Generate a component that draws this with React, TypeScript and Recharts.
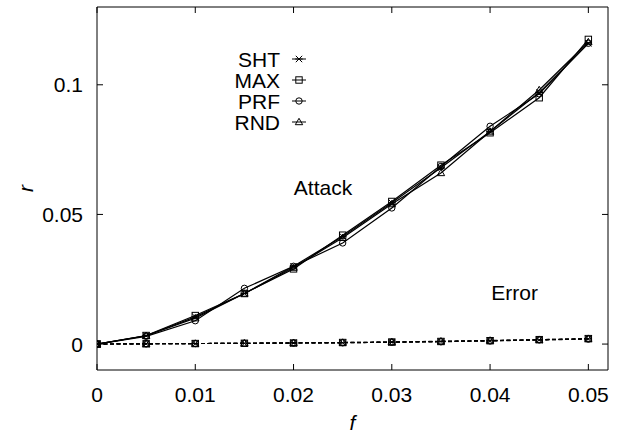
import React from 'react';
import { LineChart, Line, XAxis, YAxis, Legend, ReferenceDot, Label } from 'recharts';

const fractions = [0, 0.005, 0.01, 0.015, 0.02, 0.025, 0.03, 0.035, 0.04, 0.045, 0.05];

const attackSHT = [0, 0.0032, 0.0105, 0.0195, 0.0300, 0.0415, 0.0545, 0.0680, 0.0820, 0.0970, 0.1160];
const attackMAX = [0, 0.0033, 0.0110, 0.0195, 0.0290, 0.0420, 0.0550, 0.0690, 0.0815, 0.0950, 0.1175];
const attackPRF = [0, 0.0030, 0.0090, 0.0215, 0.0300, 0.0390, 0.0525, 0.0685, 0.0840, 0.0965, 0.1160];
const attackRND = [0, 0.0032, 0.0100, 0.0195, 0.0295, 0.0410, 0.0540, 0.0660, 0.0820, 0.0980, 0.1165];

const errorSHT = [0, 0.0001, 0.0002, 0.0003, 0.0004, 0.0005, 0.0007, 0.0010, 0.0013, 0.0016, 0.0020];
const errorMAX = [0, 0.0001, 0.0002, 0.0003, 0.0004, 0.0006, 0.0008, 0.0010, 0.0013, 0.0017, 0.0021];
const errorPRF = [0, 0.0001, 0.0002, 0.0003, 0.0004, 0.0005, 0.0007, 0.0009, 0.0012, 0.0016, 0.0019];
const errorRND = [0, 0.0001, 0.0002, 0.0003, 0.0005, 0.0006, 0.0008, 0.0011, 0.0014, 0.0017, 0.0021];

const xTicks = [0, 0.01, 0.02, 0.03, 0.04, 0.05];
const yTicks = [0, 0.05, 0.1];
const seriesNames = ['SHT', 'MAX', 'PRF', 'RND'];

const data = fractions.map((f, i) => ({
  f,
  aSHT: attackSHT[i],
  aMAX: attackMAX[i],
  aPRF: attackPRF[i],
  aRND: attackRND[i],
  eSHT: errorSHT[i],
  eMAX: errorMAX[i],
  ePRF: errorPRF[i],
  eRND: errorRND[i],
}));

const FONT = '"Liberation Sans", Arial, Helvetica, sans-serif';
const FS = 21;
const TICK = 6;
const X_DOMAIN: [number, number] = [0, 0.052];
const Y_DOMAIN: [number, number] = [-0.01, 0.13];

function Marker({ shape, cx, cy }: { shape: string; cx: number; cy: number }) {
  const s = 3.2;
  const common = { stroke: '#000', strokeWidth: 1, fill: 'none' };
  if (cx == null || cy == null || isNaN(cx) || isNaN(cy)) return <g />;
  if (shape === 'SHT') {
    return (
      <g {...common}>
        <line x1={cx - s - 0.5} y1={cy} x2={cx + s + 0.5} y2={cy} />
        <line x1={cx - s} y1={cy - s} x2={cx + s} y2={cy + s} />
        <line x1={cx - s} y1={cy + s} x2={cx + s} y2={cy - s} />
      </g>
    );
  }
  if (shape === 'MAX') {
    return <rect x={cx - s} y={cy - s} width={2 * s} height={2 * s} {...common} />;
  }
  if (shape === 'PRF') {
    return <circle cx={cx} cy={cy} r={s} {...common} />;
  }
  return (
    <polygon
      points={`${cx},${cy - s - 0.5} ${cx - s - 0.5},${cy + s - 0.5} ${cx + s + 0.5},${cy + s - 0.5}`}
      {...common}
    />
  );
}

const makeDot = (shape: string) => (p: any) => (
  <Marker key={`${shape}-${p.dataKey}-${p.index}`} shape={shape} cx={p.cx} cy={p.cy} />
);

const fmt = (v: number) => String(v);

const XTickBottom = (props: any) => {
  const { x, y, payload } = props;
  return (
    <g>
      <line x1={x} x2={x} y1={y} y2={y - TICK} stroke="#000" strokeWidth={1} />
      <text x={x} y={y + 32} textAnchor="middle" fontSize={FS} fontFamily={FONT} fill="#000">
        {fmt(payload.value)}
      </text>
    </g>
  );
};

const XTickTop = (props: any) => {
  const { x, y } = props;
  return <line x1={x} x2={x} y1={y} y2={y + TICK} stroke="#000" strokeWidth={1} />;
};

const YTickLeft = (props: any) => {
  const { x, y, payload } = props;
  return (
    <g>
      <line x1={x} x2={x + TICK} y1={y} y2={y} stroke="#000" strokeWidth={1} />
      <text x={x - 14} y={y + 7.5} textAnchor="end" fontSize={FS} fontFamily={FONT} fill="#000">
        {fmt(payload.value)}
      </text>
    </g>
  );
};

const YTickRight = (props: any) => {
  const { x, y } = props;
  return <line x1={x} x2={x - TICK} y1={y} y2={y} stroke="#000" strokeWidth={1} />;
};

const LegendContent = () => (
  <svg width={120} height={100} style={{ display: 'block', overflow: 'visible' }}>
    {seriesNames.map((name, i) => {
      const cy = 10 + i * 21;
      return (
        <g key={name}>
          <text x={70} y={cy + 7.5} textAnchor="end" fontSize={FS} fontFamily={FONT} fill="#000">
            {name}
          </text>
          <line x1={82} x2={96} y1={cy} y2={cy} stroke="#000" strokeWidth={1} />
          <Marker shape={name} cx={89} cy={cy} />
        </g>
      );
    })}
  </svg>
);

export default function App() {
  return (
    <div style={{ position: 'absolute', left: 0, top: 0, width: 618, height: 435, background: '#fff' }}>
      <LineChart
        width={618}
        height={435}
        data={data}
        margin={{ top: 6, right: 9, left: 96, bottom: 64 }}
        style={{ background: '#fff' }}
      >
        <XAxis
          dataKey="f"
          type="number"
          domain={X_DOMAIN}
          ticks={xTicks}
          allowDataOverflow
          height={1}
          tickSize={0}
          tickMargin={0}
          tickLine={false}
          tick={<XTickBottom />}
          axisLine={{ stroke: '#000', strokeWidth: 1 }}
          interval={0}
        >
          <Label
            value="f"
            position="bottom"
            offset={44}
            style={{ fontSize: FS, fontFamily: FONT, fontStyle: 'italic', fill: '#000' }}
          />
        </XAxis>
        <XAxis
          xAxisId="top"
          dataKey="f"
          type="number"
          orientation="top"
          domain={X_DOMAIN}
          ticks={xTicks}
          allowDataOverflow
          height={1}
          tickSize={0}
          tickMargin={0}
          tickLine={false}
          tick={<XTickTop />}
          axisLine={{ stroke: '#000', strokeWidth: 1 }}
          interval={0}
        />
        <YAxis
          type="number"
          domain={Y_DOMAIN}
          ticks={yTicks}
          allowDataOverflow
          width={1}
          tickSize={0}
          tickMargin={0}
          tickLine={false}
          tick={<YTickLeft />}
          axisLine={{ stroke: '#000', strokeWidth: 1 }}
          interval={0}
        >
          <Label
            value="r"
            angle={-90}
            position="left"
            offset={70}
            style={{ fontSize: FS, fontFamily: FONT, fontStyle: 'italic', fill: '#000', textAnchor: 'middle' }}
          />
        </YAxis>
        <YAxis
          yAxisId="right"
          type="number"
          orientation="right"
          domain={Y_DOMAIN}
          ticks={yTicks}
          allowDataOverflow
          width={1}
          tickSize={0}
          tickMargin={0}
          tickLine={false}
          tick={<YTickRight />}
          axisLine={{ stroke: '#000', strokeWidth: 1 }}
          interval={0}
        />
        <Legend
          layout="vertical"
          align="center"
          verticalAlign="middle"
          content={<LegendContent />}
          wrapperStyle={{ position: 'absolute', left: 210, top: 49, width: 120, height: 100 }}
        />
        <Line
          xAxisId="top"
          yAxisId="right"
          dataKey="aSHT"
          stroke="none"
          dot={false}
          legendType="none"
          isAnimationActive={false}
        />
        {seriesNames.map((name) => (
          <Line
            key={`e${name}`}
            dataKey={`e${name}`}
            stroke="#000"
            strokeWidth={1.2}
            strokeDasharray="4 2.5"
            dot={makeDot(name)}
            legendType="none"
            isAnimationActive={false}
          />
        ))}
        {seriesNames.map((name) => (
          <Line
            key={`a${name}`}
            dataKey={`a${name}`}
            name={name}
            stroke="#000"
            strokeWidth={1.2}
            dot={makeDot(name)}
            isAnimationActive={false}
          />
        ))}
        <ReferenceDot x={0.0230} y={0.0603} r={0} fill="none" stroke="none">
          <Label value="Attack" position="center" style={{ fontSize: FS, fontFamily: FONT, fill: '#000' }} />
        </ReferenceDot>
        <ReferenceDot x={0.0425} y={0.0197} r={0} fill="none" stroke="none">
          <Label value="Error" position="center" style={{ fontSize: FS, fontFamily: FONT, fill: '#000' }} />
        </ReferenceDot>
      </LineChart>
    </div>
  );
}
